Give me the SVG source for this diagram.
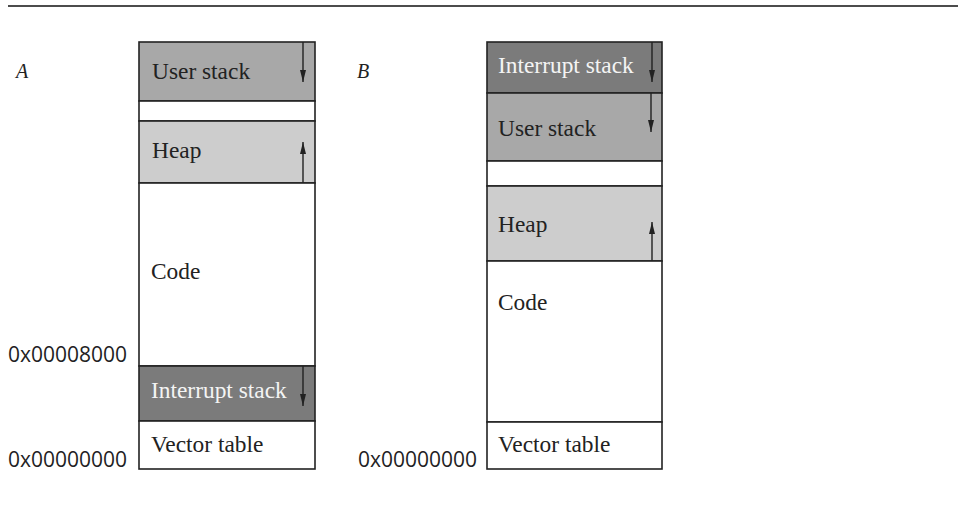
<svg xmlns="http://www.w3.org/2000/svg" width="958" height="510" viewBox="0 0 958 510">
<style>
.box{stroke:#222;stroke-width:1.6}
.lbl{font-family:"Liberation Serif","Times New Roman",serif;font-size:23.4px;fill:#222}
.inv{fill:#f4f4f4}
.hex{font-family:"Open Sans","Liberation Sans",sans-serif;font-size:21px;fill:#222}
.ttl{font-family:"Liberation Serif","Times New Roman",serif;font-size:20px;font-style:italic;fill:#222}
.arr{stroke:#222;stroke-width:1.4;fill:none}
.usr{fill:#a8a8a8}
.irq{fill:#7b7b7b}
.heap{fill:#cdcdcd}
.wht{fill:#ffffff}
</style>
<defs>
<marker id="ah" viewBox="0 0 12 6" refX="12" refY="3" markerWidth="12" markerHeight="6" markerUnits="userSpaceOnUse" orient="auto" preserveAspectRatio="none">
<path d="M0,0 L12,3 L0,6 z" fill="#222"/>
</marker>
</defs>
<rect x="0" y="0" width="958" height="510" fill="#ffffff"/>
<line x1="8" y1="6" x2="958" y2="6" stroke="#111" stroke-width="1.6"/>
<text class="ttl" x="16" y="78">A</text>
<text class="ttl" x="357" y="78">B</text>

<g id="A-user-stack">
<rect class="box usr" x="139" y="42" width="176" height="59"/>
<text class="lbl" x="152" y="79">User stack</text>
</g>
<g id="A-gap"><rect class="box wht" x="139" y="101" width="176" height="20"/></g>
<g id="A-heap">
<rect class="box heap" x="139" y="121" width="176" height="62"/>
<text class="lbl" x="152" y="158">Heap</text>
</g>
<g id="A-code">
<rect class="box wht" x="139" y="183" width="176" height="183"/>
<text class="lbl" x="151" y="279">Code</text>
</g>
<g id="A-interrupt-stack">
<rect class="box irq" x="139" y="366" width="176" height="55"/>
<text class="lbl inv" x="151" y="398">Interrupt stack</text>
</g>
<g id="A-vector-table">
<rect class="box wht" x="139" y="421" width="176" height="48"/>
<text class="lbl" x="151" y="452">Vector table</text>
</g>
<text class="hex" x="8" y="362">0x00008000</text>
<text class="hex" x="8" y="467">0x00000000</text>

<g id="B-interrupt-stack">
<rect class="box irq" x="487" y="42" width="175" height="51"/>
<text class="lbl inv" x="498" y="73">Interrupt stack</text>
</g>
<g id="B-user-stack">
<rect class="box usr" x="487" y="93" width="175" height="68"/>
<text class="lbl" x="498" y="136">User stack</text>
</g>
<g id="B-gap"><rect class="box wht" x="487" y="161" width="175" height="25"/></g>
<g id="B-heap">
<rect class="box heap" x="487" y="186" width="175" height="75"/>
<text class="lbl" x="498" y="232">Heap</text>
</g>
<g id="B-code">
<rect class="box wht" x="487" y="261" width="175" height="161"/>
<text class="lbl" x="498" y="310">Code</text>
</g>
<g id="B-vector-table">
<rect class="box wht" x="487" y="422" width="175" height="47"/>
<text class="lbl" x="498" y="452">Vector table</text>
</g>
<text class="hex" x="358" y="467">0x00000000</text>

<g id="connectors">
<line class="arr" x1="303" y1="42" x2="303" y2="82" marker-end="url(#ah)"/>
<line class="arr" x1="303" y1="183" x2="303" y2="142" marker-end="url(#ah)"/>
<line class="arr" x1="303" y1="366" x2="303" y2="406" marker-end="url(#ah)"/>
<line class="arr" x1="652" y1="42" x2="652" y2="82" marker-end="url(#ah)"/>
<line class="arr" x1="651" y1="93" x2="651" y2="132" marker-end="url(#ah)"/>
<line class="arr" x1="652" y1="261" x2="652" y2="222" marker-end="url(#ah)"/>
</g>
</svg>
